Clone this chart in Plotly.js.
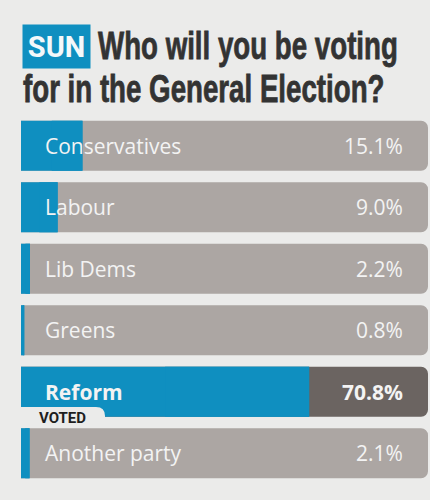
<!DOCTYPE html>
<html>
<head>
<meta charset="utf-8">
<script src="https://cdn.plot.ly/plotly-3.0.1.min.js"></script>
<style>
  html, body { margin: 0; padding: 0; background: #ebebea; }
  #chart { width: 430px; height: 500px; }
  /* emulate the condensed, heavy headline typeface */
  text[style*="Liberation Sans"] {
    transform-box: fill-box;
    transform-origin: 0 50%;
    transform: scaleX(0.71);
    stroke: #333333;
    stroke-width: 0.8px;
  }
</style>
</head>
<body>
<div id="chart"></div>
<script>
// ---- data ----
const parties = ["Conservatives", "Labour", "Lib Dems", "Greens", "Reform", "Another party"];
const shares = [15.1, 9.0, 2.2, 0.8, 70.8, 2.1];
const valueLabels = ["15.1%", "9.0%", "2.2%", "0.8%", "70.8%", "2.1%"];
const votedParty = "Reform";
const scaleMax = 100;

// ---- styling ----
const BLUE = "#0f8fc0";
const TRACK = "#aca6a3";
const TRACK_VOTED = "#6b6461";
const BG = "#ebebea";
const TEXT_DARK = "#333333";
const LABEL = "#f3f3f3";

const W = 430, H = 500;
const M = { l: 21, r: 2, t: 115, b: 16 };
const PW = W - M.l - M.r, PH = H - M.t - M.b;
const px2x = px => (px - M.l) / PW;
const px2y = py => (H - M.b - py) / PH;

const barW = 0.814;
const trackVals = parties.map(() => scaleMax);
const trackCols = parties.map(p => p === votedParty ? TRACK_VOTED : TRACK);

const traces = [
  { type: "bar", orientation: "h", y: parties, x: trackVals, width: barW,
    marker: { color: trackCols, cornerradius: 7 }, hoverinfo: "skip", showlegend: false },
  { type: "bar", orientation: "h", y: parties, x: shares, width: barW,
    marker: { color: BLUE, cornerradius: 7 }, hoverinfo: "skip", showlegend: false },
  { type: "bar", orientation: "h", y: parties, x: shares.map(v => v / 2), base: shares.map(v => v / 2), width: barW,
    marker: { color: BLUE }, hoverinfo: "skip", showlegend: false }
];

const annotations = [];
parties.forEach((p, i) => {
  const bold = p === votedParty;
  annotations.push({ xref: "x", yref: "y", x: 0, y: p, xanchor: "left", yanchor: "middle", xshift: 22,
    text: p, showarrow: false,
    font: { family: "Open Sans, sans-serif", size: 21, color: LABEL, weight: bold ? 700 : 400 } });
  annotations.push({ xref: "x", yref: "y", x: scaleMax, y: p, xanchor: "right", yanchor: "middle", xshift: -23,
    text: valueLabels[i], showarrow: false,
    font: { family: "Open Sans, sans-serif", size: 21, color: LABEL, weight: bold ? 700 : 400 } });
});

const TITLE_FONT = "'Liberation Sans', Arial, sans-serif";
annotations.push({ xref: "paper", yref: "paper", x: px2x(22), y: px2y(46), xanchor: "left", yanchor: "middle",
  text: "SUN", showarrow: false, bgcolor: BLUE, width: 67, height: 43, borderpad: 0, align: "center",
  font: { family: "Roboto, sans-serif", size: 29, color: "#f4f8fa", weight: 700 } });
annotations.push({ xref: "paper", yref: "paper", x: px2x(96), y: px2y(45), xanchor: "left", yanchor: "middle",
  text: "Who will you be voting", showarrow: false,
  font: { family: TITLE_FONT, size: 39, color: TEXT_DARK, weight: 700 } });
annotations.push({ xref: "paper", yref: "paper", x: px2x(21), y: px2y(88), xanchor: "left", yanchor: "middle",
  text: "for in the General Election?", showarrow: false,
  font: { family: TITLE_FONT, size: 39, color: TEXT_DARK, weight: 700 } });

// VOTED tab
annotations.push({ xref: "paper", yref: "paper", x: px2x(37), y: px2y(418), xanchor: "left", yanchor: "middle",
  text: "VOTED", showarrow: false,
  font: { family: "Roboto, sans-serif", size: 15, color: "#1e1e1e", weight: 700 } });

const tabPath = "M " + px2x(20) + "," + px2y(418) +
  " L " + px2x(20) + "," + px2y(407) +
  " L " + px2x(96) + "," + px2y(407) +
  " Q " + px2x(105) + "," + px2y(407) + " " + px2x(105) + "," + px2y(416) +
  " L " + px2x(105) + "," + px2y(418) + " Z";

const layout = {
  width: W, height: H,
  margin: M,
  paper_bgcolor: BG, plot_bgcolor: BG,
  barmode: "overlay",
  showlegend: false,
  xaxis: { range: [0, scaleMax], visible: false, fixedrange: true },
  yaxis: { type: "category", categoryorder: "array", categoryarray: parties,
           range: [parties.length - 0.5, -0.5], visible: false, fixedrange: true },
  shapes: [
    { type: "path", xref: "paper", yref: "paper", path: tabPath, fillcolor: BG, line: { width: 0 }, layer: "above" }
  ],
  annotations: annotations
};

Plotly.newPlot("chart", traces, layout, { displayModeBar: false, staticPlot: true });
</script>
</body>
</html>
